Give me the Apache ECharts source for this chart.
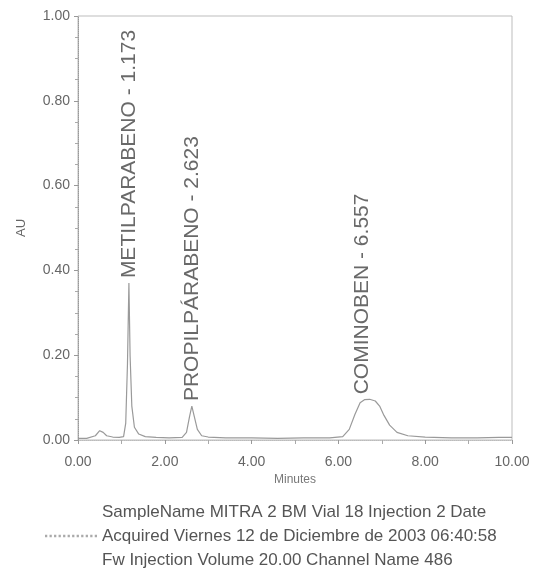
<!DOCTYPE html>
<html>
<head>
<meta charset="utf-8">
<script src="https://cdn.jsdelivr.net/npm/echarts@6/dist/echarts.min.js"></script>
<style>html,body{margin:0;padding:0;background:#fff;}#c{width:535px;height:576px;}</style>
</head>
<body>
<div id="c"></div>
<script>
// Chromatogram trace (minutes, AU)
const times = [0.00, 0.20, 0.40, 0.50, 0.58, 0.66, 0.80, 0.95, 1.05, 1.10, 1.14, 1.173, 1.20, 1.24, 1.30, 1.40, 1.55, 1.80, 2.10, 2.40, 2.50, 2.57, 2.623, 2.68, 2.75, 2.85, 3.00, 3.40, 4.00, 4.60, 5.20, 5.80, 6.10, 6.25, 6.38, 6.50, 6.60, 6.72, 6.85, 6.95, 7.05, 7.18, 7.35, 7.60, 8.00, 8.60, 9.20, 9.70, 10.00];
const au    = [0.004, 0.004, 0.010, 0.022, 0.018, 0.010, 0.007, 0.006, 0.008, 0.040, 0.180, 0.370, 0.200, 0.080, 0.030, 0.014, 0.008, 0.006, 0.005, 0.006, 0.018, 0.055, 0.080, 0.055, 0.025, 0.010, 0.007, 0.005, 0.005, 0.004, 0.005, 0.005, 0.008, 0.025, 0.060, 0.088, 0.095, 0.096, 0.092, 0.080, 0.058, 0.035, 0.018, 0.010, 0.007, 0.005, 0.005, 0.006, 0.006];

// Peak annotations
const peakNames   = ['METILPARABENO', 'PROPILPÁRABENO', 'COMINOBEN'];
const peakTimes   = [1.173, 2.623, 6.557];
const peakHeights = [0.370, 0.080, 0.096];

// Axis ticks
const xTickLabels = ['0.00', '2.00', '4.00', '6.00', '8.00', '10.00'];
const yTickLabels = ['0.00', '0.20', '0.40', '0.60', '0.80', '1.00'];

// Sample information text
const infoLines = [
  'SampleName MITRA 2 BM Vial 18 Injection 2 Date',
  'Acquired Viernes 12 de Diciembre de 2003 06:40:58',
  'Fw Injection Volume 20.00 Channel Name 486'
];

const trace = times.map((t, i) => [t, au[i]]);
const peaks = peakTimes.map((t, i) => ({ value: [t, peakHeights[i]], name: peakNames[i] + ' - ' + t.toFixed(3) }));

const FONT = '"Liberation Sans", Arial, sans-serif';
const dots = (function(){ let p = ''; for (let k = 0; k < 12; k++) { const x = k * 4; p += 'M' + x + ' 0h2v2h-2z'; } return 'path://' + p; })();

const chart = echarts.init(document.getElementById('c'), null, { renderer: 'canvas' });
chart.setOption({
  animation: false,
  backgroundColor: '#ffffff',
  textStyle: { fontFamily: FONT },
  grid: { left: 78, right: 23, top: 16, bottom: 136, show: true, borderColor: '#bdbdbd', borderWidth: 1, backgroundColor: 'transparent' },
  legend: {
    show: true,
    data: ['trace'],
    left: 40,
    top: 495,
    icon: dots,
    itemWidth: 52,
    itemHeight: 3,
    itemGap: 0,
    selectedMode: false,
    formatter: function () { return infoLines.join('\n'); },
    textStyle: { fontFamily: FONT, fontSize: 17, lineHeight: 24, color: '#555' },
    itemStyle: { color: '#aaa' }
  },
  xAxis: {
    type: 'value', min: 0, max: 10, interval: 2,
    axisLabel: { formatter: function (v) { return xTickLabels[Math.round(v / 2)]; }, color: '#666', fontSize: 14, margin: 15, fontFamily: FONT },
    axisLine: { show: true, onZero: false, lineStyle: { color: '#bbb', type: 'dotted', width: 1 } },
    axisTick: { show: true, length: 4, lineStyle: { color: '#999' } },
    minorTick: { show: true, splitNumber: 2, length: 4, lineStyle: { color: '#aaa' } },
    splitLine: { show: false },
    name: 'Minutes', nameLocation: 'middle', nameGap: 34,
    nameTextStyle: { color: '#777', fontSize: 12, fontFamily: FONT }
  },
  yAxis: {
    type: 'value', min: 0, max: 1, interval: 0.2,
    axisLabel: { formatter: function (v) { return yTickLabels[Math.round(v / 0.2)]; }, color: '#666', fontSize: 14, margin: 8, fontFamily: FONT },
    axisLine: { show: true, lineStyle: { color: '#999', type: 'dotted', width: 1 } },
    axisTick: { show: true, length: 4, lineStyle: { color: '#999' } },
    minorTick: { show: true, splitNumber: 4, length: 3, lineStyle: { color: '#aaa' } },
    splitLine: { show: false },
    name: 'AU', nameLocation: 'middle', nameGap: 50,
    nameTextStyle: { color: '#666', fontSize: 13, fontFamily: FONT }
  },
  series: [{
    name: 'trace',
    type: 'line',
    data: trace,
    showSymbol: false,
    symbol: 'none',
    lineStyle: { color: '#9a9a9a', width: 1.2 },
    itemStyle: { color: '#aaa' },
    z: 3
  }, {
    name: 'peaks',
    type: 'scatter',
    data: peaks,
    symbolSize: 0,
    silent: true,
    label: {
      show: true,
      position: 'top',
      distance: 5,
      rotate: 90,
      align: 'left',
      verticalAlign: 'middle',
      fontFamily: FONT,
      color: '#444',
      formatter: function (p) { return p.data.name; },
      fontSize: 21
    },
    z: 4
  }]
});
</script>
</body>
</html>
